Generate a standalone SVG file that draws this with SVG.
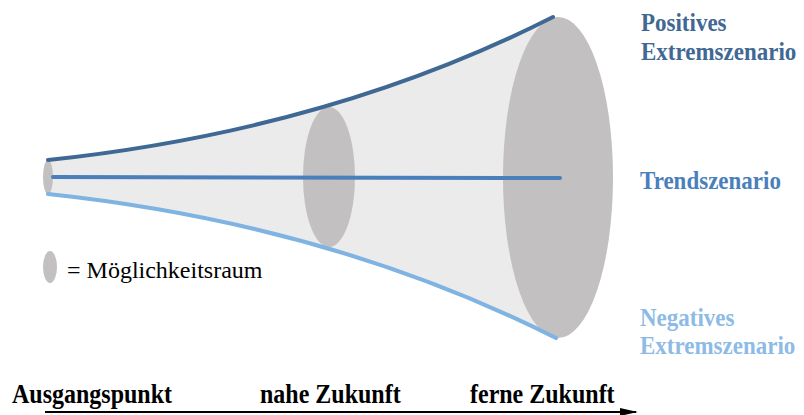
<svg xmlns="http://www.w3.org/2000/svg" width="804" height="415" viewBox="0 0 804 415">
<defs>
<style>
.ell{fill:#c2c0c1}
text{font-family:'Liberation Serif','Tinos','Times New Roman','DejaVu Serif',serif}
.lbl{font-weight:bold;font-size:23px}
.axis{font-weight:bold;font-size:24px;fill:#000}
.leg{font-size:24px;fill:#000}
</style>
<marker id="arr" viewBox="0 0 10 10" refX="9" refY="5" markerWidth="18" markerHeight="8" markerUnits="userSpaceOnUse" orient="auto" preserveAspectRatio="none">
<path d="M0,0 L10,5 L0,10 Z" fill="#000"/>
</marker>
</defs>
<rect width="804" height="415" fill="#fff"/>
<g id="cone">
<path d="M48,160 Q330,130 553,17 L557,17.5 L557,338 L556,338 Q330,224 48,194 Z" fill="#ebebeb"/>
</g>
<g id="node-start"><ellipse class="ell" cx="48" cy="177" rx="5" ry="17"/></g>
<g id="node-near"><ellipse class="ell" cx="329" cy="177" rx="26" ry="70"/></g>
<g id="node-far"><ellipse class="ell" cx="558" cy="177.5" rx="55" ry="160.5"/></g>
<g id="connectors" fill="none" stroke-linecap="round">
<path d="M48,160 Q330,130 553,17" stroke="#3f6894" stroke-width="4"/>
<path d="M53,177 L560,178" stroke="#4a7fbc" stroke-width="4"/>
<path d="M48,194 Q330,224 556,338" stroke="#7eb3e2" stroke-width="4"/>
<line x1="45" y1="412" x2="636" y2="412" stroke="#000" stroke-width="2" stroke-linecap="butt" marker-end="url(#arr)"/>
</g>
<g id="labels">
<text class="lbl" font-family="Liberation Serif, serif" fill="#3f6894" transform="translate(641,31) scale(1,1.12)">Positives</text>
<text class="lbl" font-family="Liberation Serif, serif" fill="#3f6894" transform="translate(641,60) scale(1,1.12)">Extremszenario</text>
<text class="lbl" font-family="Liberation Serif, serif" fill="#4a7fbc" transform="translate(640,189) scale(1,1.12)">Trendszenario</text>
<text class="lbl" font-family="Liberation Serif, serif" fill="#8dbbe6" transform="translate(640,326) scale(1,1.12)">Negatives</text>
<text class="lbl" font-family="Liberation Serif, serif" fill="#8dbbe6" transform="translate(640,354) scale(1,1.12)">Extremszenario</text>
<text class="axis" font-family="Liberation Serif, serif" transform="translate(12,403) scale(1,1.12)">Ausgangspunkt</text>
<text class="axis" font-family="Liberation Serif, serif" transform="translate(260,403) scale(1,1.12)">nahe Zukunft</text>
<text class="axis" font-family="Liberation Serif, serif" transform="translate(470,403) scale(1,1.12)">ferne Zukunft</text>
</g>
<g id="legend">
<ellipse class="ell" cx="50" cy="267" rx="7" ry="16"/>
<text class="leg" font-family="Liberation Serif, serif" x="67" y="278">= Möglichkeitsraum</text>
</g>
</svg>
